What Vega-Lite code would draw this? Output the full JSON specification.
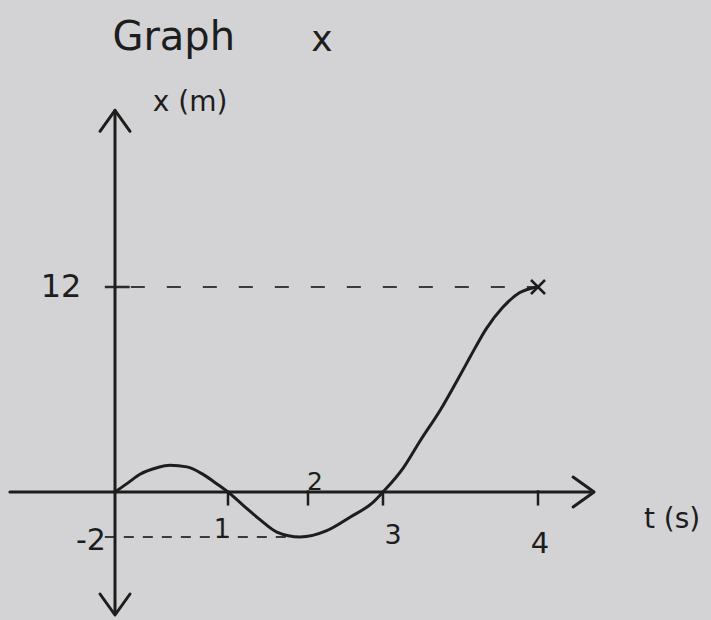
{
  "$schema": "https://vega.github.io/schema/vega-lite/v6.json",
  "width": 711,
  "height": 620,
  "autosize": "none",
  "padding": 0,
  "background": "#d3d3d5",
  "config": {
    "view": {"stroke": null},
    "text": {"font": "DejaVu Sans", "color": "#1d1d1d"}
  },
  "datasets": {
    "curve": [
      {"t": 0.0, "x": 0.0},
      {"t": 0.106, "x": 0.49},
      {"t": 0.221, "x": 1.04},
      {"t": 0.372, "x": 1.42},
      {"t": 0.487, "x": 1.56},
      {"t": 0.637, "x": 1.47},
      {"t": 0.779, "x": 1.03},
      {"t": 0.903, "x": 0.47},
      {"t": 1.0, "x": 0.0},
      {"t": 1.19, "x": -0.59},
      {"t": 1.4, "x": -1.23},
      {"t": 1.61, "x": -1.78},
      {"t": 1.9, "x": -2.0},
      {"t": 2.25, "x": -1.72},
      {"t": 2.56, "x": -1.12},
      {"t": 2.87, "x": -0.45},
      {"t": 3.0, "x": 0.0},
      {"t": 3.13, "x": 1.4},
      {"t": 3.24, "x": 3.0},
      {"t": 3.37, "x": 4.8},
      {"t": 3.5, "x": 6.88},
      {"t": 3.56, "x": 7.87},
      {"t": 3.67, "x": 9.61},
      {"t": 3.77, "x": 10.78},
      {"t": 3.88, "x": 11.66},
      {"t": 4.0, "x": 12.0}
    ],
    "arrows": [
      {"t": 0, "x": 21.73, "dir": "up"},
      {"t": 0, "x": -5.0, "dir": "down"},
      {"t": 4.294, "x": 0, "dir": "right"}
    ],
    "taxis": [{"t": -0.93, "t2": 4.335, "x": 0}],
    "xaxis": [{"t": 0, "x": -5.38, "x2": 22.34}],
    "guide12": [{"t": 0.14, "t2": 4, "x": 12}],
    "tick12": [{"t": -0.09, "t2": 0.13, "x": 12}],
    "guideMinus2": [{"t": -0.09, "t2": 1.85, "x": -2}],
    "tticks": [
      {"t": 1, "x": 0.1, "x2": -0.6},
      {"t": 2, "x": 0.1, "x2": -0.6},
      {"t": 3, "x": 0.1, "x2": -0.6},
      {"t": 4, "x": 0.1, "x2": -0.6}
    ],
    "tlabel1": [{"t": 1, "x": 0}],
    "tlabel2": [{"t": 2, "x": 0}],
    "tlabel3": [{"t": 3, "x": 0}],
    "tlabel4": [{"t": 4, "x": 0}],
    "label12": [{"t": 0, "x": 12}],
    "labelMinus2": [{"t": 0, "x": -2}],
    "endpoint": [{"t": 4, "x": 12}],
    "heading": [{"t": 0.52, "x": 26.6, "label": "Graph"}],
    "headingVar": [{"t": 2.187, "x": 26.43, "label": "x"}],
    "axisTitles": [
      {"t": 0.664, "x": 22.75, "label": "x (m)"},
      {"t": 4.865, "x": -1.24, "label": "t (s)"}
    ]
  },
  "encoding": {
    "x": {
      "field": "t",
      "type": "quantitative",
      "axis": null,
      "scale": {"domain": [0, 1, 2, 3, 4], "range": [115, 228, 308, 383, 538], "nice": false, "zero": false}
    },
    "y": {
      "field": "x",
      "type": "quantitative",
      "axis": null,
      "scale": {"domain": [-2, 0, 12], "range": [537, 492, 287], "nice": false, "zero": false}
    }
  },
  "layer": [
    {
      "data": {"name": "guide12"},
      "mark": {"type": "rule", "stroke": "#3a3a3a", "strokeWidth": 2, "strokeDash": [14, 22]},
      "encoding": {"x2": {"field": "t2"}}
    },
    {
      "data": {"name": "tick12"},
      "mark": {"type": "rule", "stroke": "#2a2a2a", "strokeWidth": 2.5},
      "encoding": {"x2": {"field": "t2"}}
    },
    {
      "data": {"name": "guideMinus2"},
      "mark": {"type": "rule", "stroke": "#3a3a3a", "strokeWidth": 2, "strokeDash": [10, 9]},
      "encoding": {"x2": {"field": "t2"}}
    },
    {
      "data": {"name": "taxis"},
      "mark": {"type": "rule", "stroke": "#1d1d1d", "strokeWidth": 3, "strokeCap": "round"},
      "encoding": {"x2": {"field": "t2"}}
    },
    {
      "data": {"name": "xaxis"},
      "mark": {"type": "rule", "stroke": "#1d1d1d", "strokeWidth": 3, "strokeCap": "round"},
      "encoding": {"y2": {"field": "x2"}}
    },
    {
      "data": {"name": "tticks"},
      "mark": {"type": "rule", "stroke": "#1d1d1d", "strokeWidth": 2.5},
      "encoding": {"y2": {"field": "x2"}}
    },
    {
      "data": {"name": "arrows"},
      "mark": {"type": "point", "filled": false, "stroke": "#1d1d1d", "strokeWidth": 3, "size": 900, "opacity": 1, "strokeJoin": "round", "strokeCap": "round"},
      "encoding": {
        "shape": {
          "field": "dir",
          "type": "nominal",
          "legend": null,
          "scale": {
            "domain": ["up", "down", "right"],
            "range": ["M-1,0.7L0,-0.7L1,0.7", "M-1,-0.7L0,0.7L1,-0.7", "M-0.7,-1L0.7,0L-0.7,1"]
          }
        }
      }
    },
    {
      "data": {"name": "curve"},
      "mark": {"type": "line", "interpolate": "monotone", "stroke": "#1d1d1d", "strokeWidth": 3, "strokeCap": "round"}
    },
    {
      "data": {"name": "endpoint"},
      "mark": {"type": "point", "shape": "M-1,-1L1,1M-1,1L1,-1", "filled": false, "stroke": "#1d1d1d", "strokeWidth": 2.5, "size": 196, "opacity": 1}
    },
    {
      "data": {"name": "tlabel1"},
      "mark": {"type": "text", "fontSize": 26, "dy": 38, "dx": -6, "baseline": "middle", "align": "center"},
      "encoding": {"text": {"field": "t", "type": "quantitative"}}
    },
    {
      "data": {"name": "tlabel2"},
      "mark": {"type": "text", "fontSize": 25, "dy": -10, "dx": 7, "baseline": "middle", "align": "center"},
      "encoding": {"text": {"field": "t", "type": "quantitative"}}
    },
    {
      "data": {"name": "tlabel3"},
      "mark": {"type": "text", "fontSize": 27, "dy": 44, "dx": 10, "baseline": "middle", "align": "center"},
      "encoding": {"text": {"field": "t", "type": "quantitative"}}
    },
    {
      "data": {"name": "tlabel4"},
      "mark": {"type": "text", "fontSize": 29, "dy": 52, "dx": 2, "baseline": "middle", "align": "center"},
      "encoding": {"text": {"field": "t", "type": "quantitative"}}
    },
    {
      "data": {"name": "label12"},
      "mark": {"type": "text", "fontSize": 32, "dx": -54, "baseline": "middle", "align": "center"},
      "encoding": {"text": {"field": "x", "type": "quantitative"}}
    },
    {
      "data": {"name": "labelMinus2"},
      "mark": {"type": "text", "text": "-2", "fontSize": 30, "dx": -24, "dy": 4, "baseline": "middle", "align": "center"}
    },
    {
      "data": {"name": "axisTitles"},
      "mark": {"type": "text", "fontSize": 28, "baseline": "middle", "align": "center"},
      "encoding": {"text": {"field": "label"}}
    },
    {
      "data": {"name": "heading"},
      "mark": {"type": "text", "fontSize": 40, "baseline": "middle", "align": "center"},
      "encoding": {"text": {"field": "label"}}
    },
    {
      "data": {"name": "headingVar"},
      "mark": {"type": "text", "fontSize": 36, "baseline": "middle", "align": "center"},
      "encoding": {"text": {"field": "label"}}
    }
  ]
}
